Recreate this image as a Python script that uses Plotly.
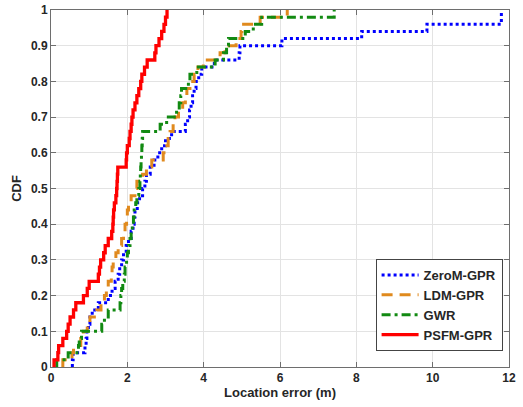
import numpy as np
import plotly.graph_objects as go

# Sorted location errors (m), 50 test points per method
zerom_gpr = [0.56, 0.58, 0.89, 0.92, 0.94, 0.98, 1.02, 1.08, 1.24, 1.50,
             1.60, 1.68, 1.76, 1.80, 1.85, 1.90, 1.97, 2.03, 2.10, 2.15,
             2.18, 2.20, 2.26, 2.32, 2.40, 2.46, 2.50, 2.60, 2.70, 2.80,
             2.90, 3.00, 3.16, 3.52, 3.58, 3.63, 3.67, 3.71, 3.75, 3.80,
             3.87, 3.95, 4.28, 4.93, 4.95, 6.05, 8.14, 9.85, 11.80, 11.80]
ldm_gpr = [0.31, 0.55, 0.59, 0.78, 0.85, 0.95, 1.02, 1.20, 1.31, 1.40,
           1.45, 1.50, 1.58, 1.60, 1.63, 1.70, 1.76, 1.85, 1.90, 1.94,
           1.98, 2.00, 2.03, 2.10, 2.20, 2.25, 2.40, 2.50, 2.64, 2.94,
           2.96, 3.07, 3.12, 3.20, 3.25, 3.34, 3.45, 3.52, 3.56, 3.64,
           3.75, 3.85, 3.99, 4.43, 4.56, 4.85, 4.98, 5.00, 5.48, 6.19]
gwr = [0.15, 0.45, 0.72, 0.74, 0.80, 1.33, 1.40, 1.50, 1.81, 1.83,
       1.85, 1.88, 1.92, 1.94, 1.98, 2.00, 2.03, 2.07, 2.10, 2.13,
       2.16, 2.18, 2.22, 2.25, 2.30, 2.33, 2.34, 2.35, 2.36, 2.37,
       2.38, 2.39, 2.40, 2.86, 3.03, 3.29, 3.36, 3.40, 3.42, 3.60,
       3.64, 3.82, 4.30, 4.52, 4.60, 4.65, 5.09, 5.30, 5.52, 7.42]
psfm_gpr = [0.08, 0.18, 0.20, 0.31, 0.41, 0.45, 0.50, 0.59, 0.65, 0.85,
            0.95, 1.00, 1.24, 1.27, 1.30, 1.38, 1.42, 1.50, 1.59, 1.62,
            1.63, 1.64, 1.66, 1.70, 1.72, 1.73, 1.74, 1.75, 1.97, 1.98,
            2.00, 2.05, 2.07, 2.10, 2.12, 2.15, 2.20, 2.25, 2.30, 2.35,
            2.38, 2.45, 2.52, 2.72, 2.75, 2.83, 2.90, 2.96, 3.00, 3.04]

series_names = ["ZeroM-GPR", "LDM-GPR", "GWR", "PSFM-GPR"]
x_ticks = [0, 2, 4, 6, 8, 10, 12]
y_ticks = [0, 0.1, 0.2, 0.3, 0.4, 0.5, 0.6, 0.7, 0.8, 0.9, 1]
y_tick_text = ["0", "0.1", "0.2", "0.3", "0.4", "0.5", "0.6", "0.7", "0.8", "0.9", "1"]

styles = [
    dict(color="#0000FF", width=3, dash="dot"),
    dict(color="#E08A1E", width=3, dash="11px,7px"),
    dict(color="#128A12", width=3, dash="9px,4px,3px,4px"),
    dict(color="#FF0000", width=3.3, dash="solid"),
]

fig = go.Figure()
for name, vals, st in zip(series_names, [zerom_gpr, ldm_gpr, gwr, psfm_gpr], styles):
    xs = np.sort(np.asarray(vals, dtype=float))
    n = len(xs)
    cdf = np.arange(1, n + 1) / n
    fig.add_trace(go.Scatter(
        x=np.concatenate([[xs[0]], xs]),
        y=np.concatenate([[0.0], cdf]),
        mode="lines", name=name, line=st, line_shape="hv",
    ))

axis_common = dict(
    showline=True, linecolor="#6e6e6e", linewidth=1, mirror="ticks",
    ticks="inside", ticklen=5, tickcolor="#6e6e6e",
    showgrid=True, gridcolor="#e3e3e3", gridwidth=1, zeroline=False,
    automargin=False,
    tickfont=dict(size=12, color="#262626", family="Liberation Sans, Arial", weight="bold"),
)

fig.update_layout(
    width=523, height=407,
    margin=dict(l=51, r=14, t=10, b=40),
    paper_bgcolor="white", plot_bgcolor="white",
    font=dict(family="Liberation Sans, Arial", size=12, color="#262626", weight="bold"),
    xaxis=dict(range=[0, 12], tickvals=x_ticks,
               title=dict(text="Location error (m)", standoff=2,
                          font=dict(size=13, weight="bold")),
               **axis_common),
    yaxis=dict(range=[0, 1], tickvals=y_ticks, ticktext=y_tick_text,
               title=dict(text="CDF", standoff=6, font=dict(size=13, weight="bold")),
               **axis_common),
    legend=dict(x=0.986, y=0.045, xanchor="right", yanchor="bottom",
                bgcolor="white", bordercolor="#444444", borderwidth=1,
                font=dict(size=13, weight="bold"), itemwidth=37,
                tracegroupgap=0),
    showlegend=True,
)

fig.write_html("out.html",
               config={"displayModeBar": False},
               post_script="document.body.style.margin='0';document.body.style.overflow='hidden';")
